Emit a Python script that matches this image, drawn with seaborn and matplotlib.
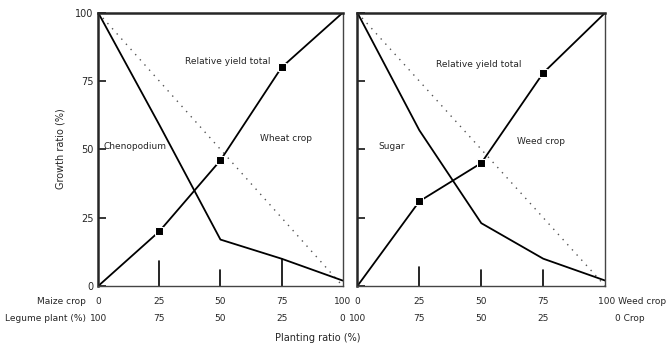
"""Replacement-series diagram: two panels of growth ratio vs planting ratio."""

import matplotlib
matplotlib.use("Agg")
import matplotlib.pyplot as plt
import matplotlib.transforms as mtransforms
import pandas as pd
import seaborn as sns

# planting ratio steps (%)
ratio = [0, 25, 50, 75, 100]

# left panel
left_rising = [0, 20, 46, 80, 100]
left_falling = [100, 59, 17, 10, 2]
# right panel
right_rising = [0, 31, 45, 78, 100]
right_falling = [100, 57, 23, 10, 2]

# little vertical bars above the baseline
left_bars = [9, 6, 10]
right_bars = [7, 6, 6]

row1_vals = ["0", "25", "50", "75", "100"]
row2_vals = ["100", "75", "50", "25", "0"]

sns.set_style("ticks")
plt.rcParams["font.family"] = ["DejaVu Sans"]

fig = plt.figure(figsize=(6.68, 3.54), dpi=100)
ax_l = fig.add_axes([0.147, 0.192, 0.366, 0.772])
ax_r = fig.add_axes([0.535, 0.192, 0.371, 0.772])


def draw_panel(ax, rising, falling, bars):
    df = pd.DataFrame({"ratio": ratio, "rising": rising, "falling": falling,
                       "diag": [100 - r for r in ratio]})
    sns.lineplot(data=df, x="ratio", y="diag", ax=ax, color="#555555",
                 linestyle=(0, (1, 4)), linewidth=1.0)
    sns.lineplot(data=df, x="ratio", y="falling", ax=ax, color="black",
                 linewidth=1.3)
    sns.lineplot(data=df, x="ratio", y="rising", ax=ax, color="black",
                 linewidth=1.3, marker="s", markersize=6, markevery=[1, 2, 3])
    for xv, h in zip(ratio[1:4], bars):
        ax.plot([xv, xv], [0, h], color="black", linewidth=1.2)
    ax.set_xlim(0, 100)
    ax.set_ylim(0, 100)
    ax.set_xlabel("")
    ax.set_ylabel("")
    ax.set_xticks([])
    ax.set_yticks([0, 25, 50, 75, 100])
    ax.tick_params(axis="y", direction="in", length=6, width=1.3, labelsize=7)
    for side in ["left", "top"]:
        ax.spines[side].set_linewidth(1.8)
    for side in ["right", "bottom"]:
        ax.spines[side].set_linewidth(1.0)
        ax.spines[side].set_color("#444444")
        ax.spines[side].set_visible(True)


draw_panel(ax_l, left_rising, left_falling, left_bars)
draw_panel(ax_r, right_rising, right_falling, right_bars)
ax_r.set_yticklabels([])

fs = 6.5
ax_l.text(53, 82, "Relative yield total", fontsize=fs, ha="center", va="center")
ax_l.text(15, 51, "Chenopodium", fontsize=fs, ha="center", va="center")
ax_l.text(77, 54, "Wheat crop", fontsize=fs, ha="center", va="center")
ax_r.text(49, 81, "Relative yield total", fontsize=fs, ha="center", va="center")
ax_r.text(14, 51, "Sugar", fontsize=fs, ha="center", va="center")
ax_r.text(74, 53, "Weed crop", fontsize=fs, ha="center", va="center")

# planting-ratio rows under each panel
for ax in (ax_l, ax_r):
    tr = mtransforms.blended_transform_factory(ax.transData, ax.transAxes)
    for xv, v1, v2 in zip(ratio, row1_vals, row2_vals):
        if ax is ax_r and xv == 100:
            continue
        ax.text(xv, -0.055, v1, transform=tr, fontsize=fs, ha="center", va="center")
        ax.text(xv, -0.118, v2, transform=tr, fontsize=fs, ha="center", va="center")

tr_l = mtransforms.blended_transform_factory(ax_l.transData, ax_l.transAxes)
ax_l.text(-5, -0.055, "Maize crop", transform=tr_l, fontsize=fs, ha="right", va="center")
ax_l.text(-5, -0.118, "Legume plant (%)", transform=tr_l, fontsize=fs,
          ha="right", va="center")
tr_r = mtransforms.blended_transform_factory(ax_r.transData, ax_r.transAxes)
ax_r.text(97, -0.055, "100 Weed crop", transform=tr_r, fontsize=fs, ha="left", va="center")
ax_r.text(104, -0.118, "0 Crop", transform=tr_r, fontsize=fs, ha="left", va="center")

fig.text(0.476, 0.045, "Planting ratio (%)", fontsize=7, ha="center", va="center")
fig.text(0.09, 0.58, "Growth ratio (%)", fontsize=7, ha="center", va="center",
         rotation=90)

fig.savefig("out.png", dpi=100)
plt.close(fig)
